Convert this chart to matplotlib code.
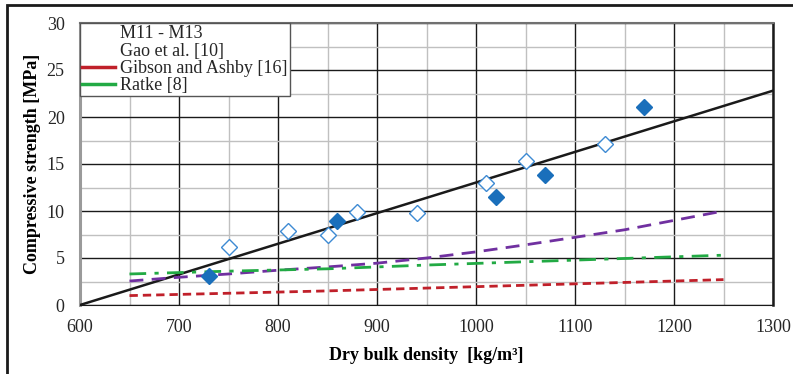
import matplotlib.pyplot as plt
from matplotlib.lines import Line2D
from matplotlib.patches import Rectangle
import numpy as np

# measured samples M11 - M13 (filled) and other specimens (open)
m_density = [730, 860, 1020, 1070, 1170]
m_strength = [3.1, 8.9, 11.5, 13.8, 21.1]
o_density = [750, 810, 850, 880, 940, 1010, 1050, 1130]
o_strength = [6.2, 7.9, 7.4, 9.9, 9.8, 13.0, 15.3, 17.1]

# Gao et al. [10]
gao_x = [600, 1300]
gao_y = [0.0, 22.8]

# Gibson and Ashby [16]
ga_x = [650, 750, 850, 950, 1050, 1150, 1250]
ga_y = [1.0, 1.25, 1.5, 1.8, 2.1, 2.4, 2.7]

# Ratke [8]
ratke_x = [650, 750, 850, 950, 1050, 1150, 1250]
ratke_y = [3.3, 3.6, 3.85, 4.25, 4.6, 4.95, 5.3]

# purple fit
fit_x = [650, 700, 750, 800, 850, 900, 950, 1000, 1050, 1100, 1150, 1200, 1250]
fit_y = [2.55, 2.95, 3.3, 3.7, 4.05, 4.45, 5.0, 5.65, 6.4, 7.2, 8.0, 9.0, 10.0]

legend_labels = ["M11 - M13", "Gao et al. [10]", "Gibson and Ashby [16]", "Ratke [8]"]

plt.rcParams['font.family'] = ['Liberation Serif', 'DejaVu Serif']
plt.rcParams['text.color'] = '#262626'
plt.rcParams['xtick.labelcolor'] = '#262626'
plt.rcParams['ytick.labelcolor'] = '#262626'


def main():
    fig = plt.figure(figsize=(7.93, 3.74), dpi=100)
    ax = fig.add_axes([80 / 793, 1 - 305 / 374, 693 / 793, 282 / 374])

    ax.set_xlim(600, 1300)
    ax.set_ylim(0, 30)
    ax.set_xticks(np.arange(600, 1301, 100))
    ax.set_yticks(np.arange(0, 31, 5))
    ax.set_xticks(np.arange(650, 1300, 100), minor=True)
    ax.set_yticks(np.arange(2.5, 30, 5), minor=True)
    ax.grid(which='minor', color='#c0c0c0', lw=1, zorder=0)
    ax.grid(which='major', color='#1a1a1a', lw=1, zorder=0)
    ax.tick_params(which='both', length=0, labelsize=13)
    ax.tick_params(axis='y', pad=11)
    ax.tick_params(axis='x', pad=10)

    ax.spines['left'].set_color('#9a9a9a')
    ax.spines['left'].set_linewidth(2.2)
    ax.spines['right'].set_color('#1a1a1a')
    ax.spines['right'].set_linewidth(1.8)
    ax.spines['top'].set_color('#707070')
    ax.spines['top'].set_linewidth(1.5)
    ax.spines['bottom'].set_color('#1a1a1a')

    ax.plot(gao_x, gao_y, color='#1a1a1a', lw=1.8, zorder=3)
    ax.plot(fit_x, fit_y, color='#7030a0', lw=2, ls=(0, (5, 3)), zorder=3)
    ax.plot(ratke_x, ratke_y, color='#22aa44', lw=2, ls=(0, (6, 3, 1.5, 3)), zorder=3)
    ax.plot(ga_x, ga_y, color='#c0202a', lw=2, ls=(0, (3, 1.8)), zorder=3)

    ax.plot(o_density, o_strength, ls='none', marker='D', ms=8, mfc='white',
            mec='#3d8ad3', mew=1, zorder=4)
    ax.plot(m_density, m_strength, ls='none', marker='D', ms=8, color='#1a6fbb',
            zorder=5)

    handles = [Line2D([], [], ls='none'),
               Line2D([], [], ls='none'),
               Line2D([], [], color='#c0202a', lw=2.5),
               Line2D([], [], color='#22aa44', lw=2.5)]
    leg = ax.legend(handles, legend_labels, loc='upper left', bbox_to_anchor=(0, 1),
                    borderaxespad=0, borderpad=0.12, fancybox=False, framealpha=1,
                    edgecolor='#555555', fontsize=13, handlelength=1.8,
                    handletextpad=0.3, labelspacing=0.02)
    leg.get_frame().set_linewidth(1)
    leg.set_zorder(10)

    ax.set_xlabel("Dry bulk density  [kg/m³]", fontsize=13, fontweight='bold',
                  labelpad=8)
    ax.set_ylabel("Compressive strength [MPa]", fontsize=13, fontweight='bold',
                  labelpad=4)

    # outer frame of the figure
    fig.patches.append(Rectangle((7 / 793, -0.2), 1.2, 1.2 - 5 / 374,
                                 transform=fig.transFigure, fill=False,
                                 lw=2, edgecolor='#1a1a1a'))

    fig.savefig("out.png", dpi=100)


if __name__ == "__main__":
    main()
